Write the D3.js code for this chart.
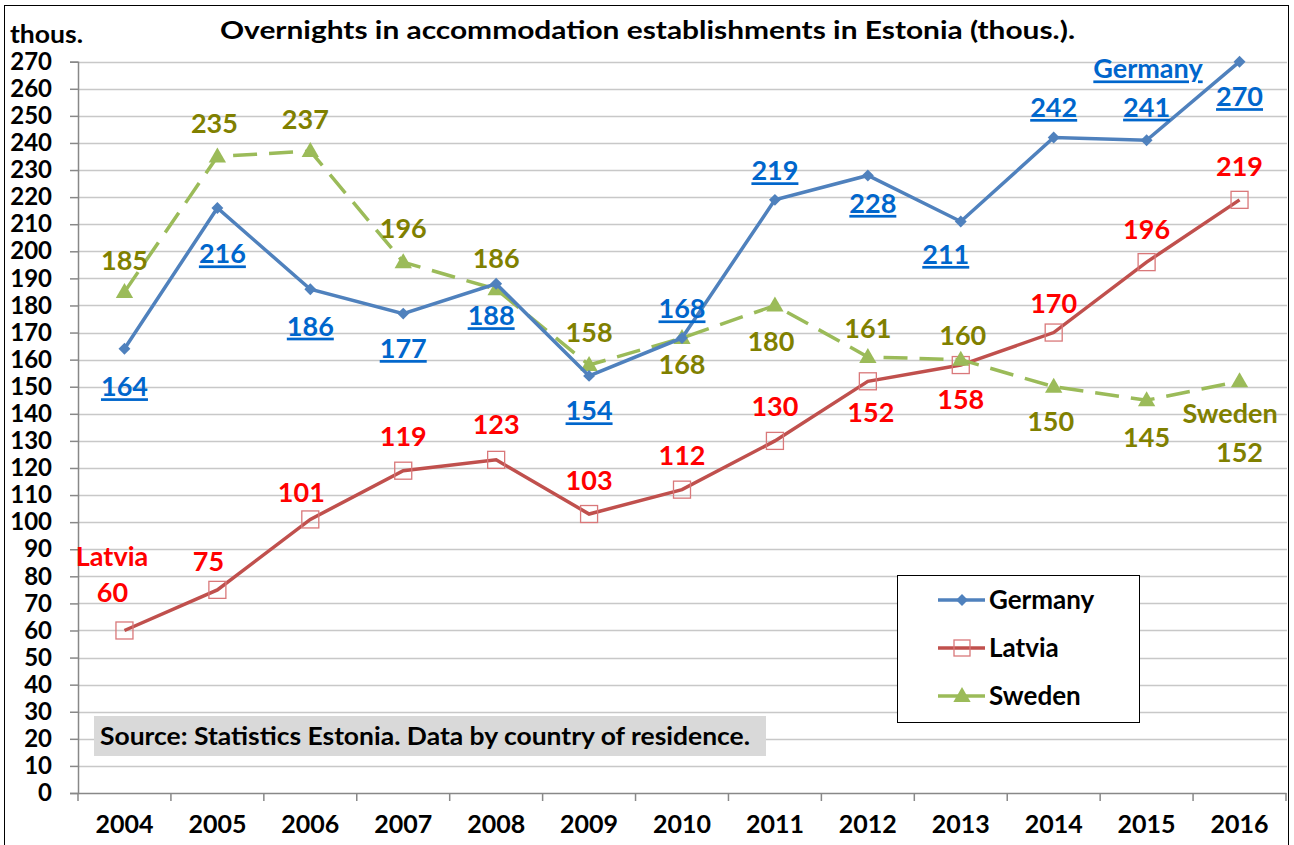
<!DOCTYPE html>
<html lang="en">
<head>
  <meta charset="UTF-8">
  <title>Overnights in Estonia</title>
  <style>
    body { margin: 0; background: #fff; }
    svg text { font-family: Lato, "Open Sans", sans-serif; font-weight: bold; }
  </style>
</head>
<body>
  <svg width="1294" height="845"></svg>
  <script src="https://d3js.org/d3.v7.min.js"></script>
  <script>
    var years = ["2004","2005","2006","2007","2008","2009","2010","2011","2012","2013","2014","2015","2016"];
    var germany = [164, 216, 186, 177, 188, 154, 168, 219, 228, 211, 242, 241, 270];
    var latvia  = [60, 75, 101, 119, 123, 103, 112, 130, 152, 158, 170, 196, 219];
    var sweden  = [185, 235, 237, 196, 186, 158, 168, 180, 161, 160, 150, 145, 152];
    var yTicks = d3.range(0, 271, 10);

    // label offsets (dx, dy from point, text centre)
    var germanyLab = [[0,38],[5,46],[0,37],[0,35],[-5,32],[0,35],[0,-29],[0,-29],[5,28],[-15,33],[0,-30],[0,-33],[0,35]];
    var latviaLab  = [[-12,-38],[-9,-28],[-9,-27],[0,-34],[0,-35],[0,-33],[0,-34],[0,-34],[3,31],[0,34],[0,-29],[0,-33],[0,-33]];
    var swedenLab  = [[0,-31],[-3,-33],[-5,-32],[0,-34],[0,-31],[0,-33],[0,27],[-4,36],[0,-28],[2,-24],[-3,35],[0,37],[0,71]];

    var svg = d3.select("svg");

    var x = d3.scaleBand().domain(years).range([78, 1286]);
    var y = d3.scaleLinear().domain([0, 270]).range([793, 61.7]);
    var cx = function(i) { return x(years[i]) + x.bandwidth() / 2; };

    // outer frame
    svg.append("rect")
      .attr("x", 4.5).attr("y", 5.5).attr("width", 1284).attr("height", 850)
      .attr("fill", "none").attr("stroke", "#000").attr("stroke-width", 1);

    // gridlines
    svg.append("g").selectAll("line")
      .data(yTicks.filter(d => d > 0))
      .enter().append("line")
      .attr("x1", 78).attr("x2", 1287)
      .attr("y1", d => Math.round(y(d)) + 0.5).attr("y2", d => Math.round(y(d)) + 0.5)
      .attr("stroke", "#c8c8c8").attr("stroke-width", 1.5);

    // y axis
    var yAxis = d3.axisLeft(y).tickValues(yTicks).tickSize(8).tickPadding(18);
    var gy = svg.append("g").attr("transform", "translate(78,0)").call(yAxis);
    gy.select(".domain").attr("stroke", "#888").attr("stroke-width", 1.5);
    gy.selectAll(".tick line").attr("stroke", "#888").attr("stroke-width", 1.5);
    gy.selectAll(".tick text").attr("font-size", 24).attr("fill", "#000")
      .attr("font-family", "Lato, sans-serif").attr("font-weight", "bold");

    // x axis
    var xAxis = d3.axisBottom(x).tickSize(0).tickPadding(22);
    var gx = svg.append("g").attr("transform", "translate(0,793)").call(xAxis);
    gx.select(".domain").attr("stroke", "#888").attr("stroke-width", 1.5);
    gx.selectAll(".tick text").attr("font-size", 25).attr("fill", "#000")
      .attr("font-family", "Lato, sans-serif").attr("font-weight", "bold");
    svg.append("g").selectAll("line")
      .data(years.map(d => x(d)).concat([x.range()[1]]))
      .enter().append("line")
      .attr("x1", d => d).attr("x2", d => d)
      .attr("y1", 793).attr("y2", 801)
      .attr("stroke", "#888").attr("stroke-width", 1.5);

    // titles
    svg.append("text").attr("x", 10).attr("y", 43).attr("font-size", 25)
      .attr("textLength", 73).attr("lengthAdjust", "spacingAndGlyphs").text("thous.");
    svg.append("text").attr("x", 220).attr("y", 39)
      .attr("font-size", 25).attr("textLength", 855).attr("lengthAdjust", "spacingAndGlyphs")
      .text("Overnights in accommodation establishments in Estonia (thous.).");

    // source box
    svg.append("rect").attr("x", 94).attr("y", 716).attr("width", 672).attr("height", 40).attr("fill", "#d9d9d9");
    svg.append("text").attr("x", 100).attr("y", 745).attr("font-size", 24)
      .attr("textLength", 650).attr("lengthAdjust", "spacingAndGlyphs")
      .text("Source: Statistics Estonia. Data by country of residence.");

    var line = d3.line().x((d, i) => cx(i)).y(d => y(d));

    // Latvia
    svg.append("path").datum(latvia).attr("d", line)
      .attr("fill", "none").attr("stroke", "#c0504d").attr("stroke-width", 3.5);
    svg.append("g").selectAll("rect").data(latvia).enter().append("rect")
      .attr("x", (d, i) => cx(i) - 8.5).attr("y", d => y(d) - 8.5)
      .attr("width", 17).attr("height", 17)
      .attr("fill", "none").attr("stroke", "#d9787a").attr("stroke-width", 1.3);

    // Sweden
    svg.append("path").datum(sweden).attr("d", line)
      .attr("fill", "none").attr("stroke", "#9bbb59").attr("stroke-width", 3.5)
      .attr("stroke-dasharray", "24,12");
    var tri = d3.symbol().type(d3.symbolTriangle).size(130);
    svg.append("g").selectAll("path").data(sweden).enter().append("path")
      .attr("d", tri)
      .attr("transform", (d, i) => "translate(" + cx(i) + "," + (y(d) + 1) + ")")
      .attr("fill", "#9bbb59");

    // Germany
    svg.append("path").datum(germany).attr("d", line)
      .attr("fill", "none").attr("stroke", "#4f81bd").attr("stroke-width", 3.5);
    var dia = d3.symbol().type(d3.symbolDiamond2).size(90);
    svg.append("g").selectAll("path").data(germany).enter().append("path")
      .attr("d", dia)
      .attr("transform", (d, i) => "translate(" + cx(i) + "," + y(d) + ")")
      .attr("fill", "#4f81bd");

    // data labels
    function labels(data, offs, color, underline) {
      svg.append("g").selectAll("text").data(data).enter().append("text")
        .attr("x", (d, i) => cx(i) + offs[i][0])
        .attr("y", (d, i) => y(d) + offs[i][1])
        .attr("dy", "0.35em")
        .attr("text-anchor", "middle")
        .attr("font-size", 27)
        .attr("fill", color)
        .attr("text-decoration", underline ? "underline" : null)
        .text(d => d);
    }
    labels(germany, germanyLab, "#0066cc", true);
    labels(latvia, latviaLab, "#ff0000", false);
    labels(sweden, swedenLab, "#808000", false);

    // series name labels
    svg.append("text").attr("x", 1148).attr("y", 69).attr("dy", "0.35em").attr("text-anchor", "middle")
      .attr("font-size", 27).attr("fill", "#0066cc").attr("text-decoration", "underline").text("Germany");
    svg.append("text").attr("x", 112).attr("y", 557).attr("dy", "0.35em").attr("text-anchor", "middle")
      .attr("font-size", 27).attr("fill", "#ff0000").text("Latvia");
    svg.append("text").attr("x", 1230).attr("y", 414).attr("dy", "0.35em").attr("text-anchor", "middle")
      .attr("font-size", 27).attr("fill", "#808000").text("Sweden");

    // legend
    var legend = svg.append("g").attr("transform", "translate(897,575)");
    legend.append("rect").attr("x", 0.5).attr("y", 0.5).attr("width", 242).attr("height", 147)
      .attr("fill", "#fff").attr("stroke", "#000").attr("stroke-width", 1);
    var items = [
      {name: "Germany", color: "#4f81bd"},
      {name: "Latvia", color: "#c0504d"},
      {name: "Sweden", color: "#9bbb59"}
    ];
    var li = legend.selectAll(".item").data(items).enter().append("g")
      .attr("transform", (d, i) => "translate(0," + (25 + i * 48) + ")");
    li.append("line").attr("x1", 41).attr("x2", 88).attr("y1", 0).attr("y2", 0)
      .attr("stroke", d => d.color).attr("stroke-width", 3.5);
    li.filter((d, i) => i == 0).append("path").attr("d", dia).attr("transform", "translate(65,0)").attr("fill", "#4f81bd");
    li.filter((d, i) => i == 1).append("rect").attr("x", 57).attr("y", -8).attr("width", 16).attr("height", 16)
      .attr("fill", "none").attr("stroke", "#d9787a").attr("stroke-width", 1.3);
    li.filter((d, i) => i == 2).append("path").attr("d", tri).attr("transform", "translate(65,1)").attr("fill", "#9bbb59");
    li.append("text").attr("x", 92).attr("dy", "0.35em").attr("font-size", 26).text(d => d.name);
  </script>
</body>
</html>
